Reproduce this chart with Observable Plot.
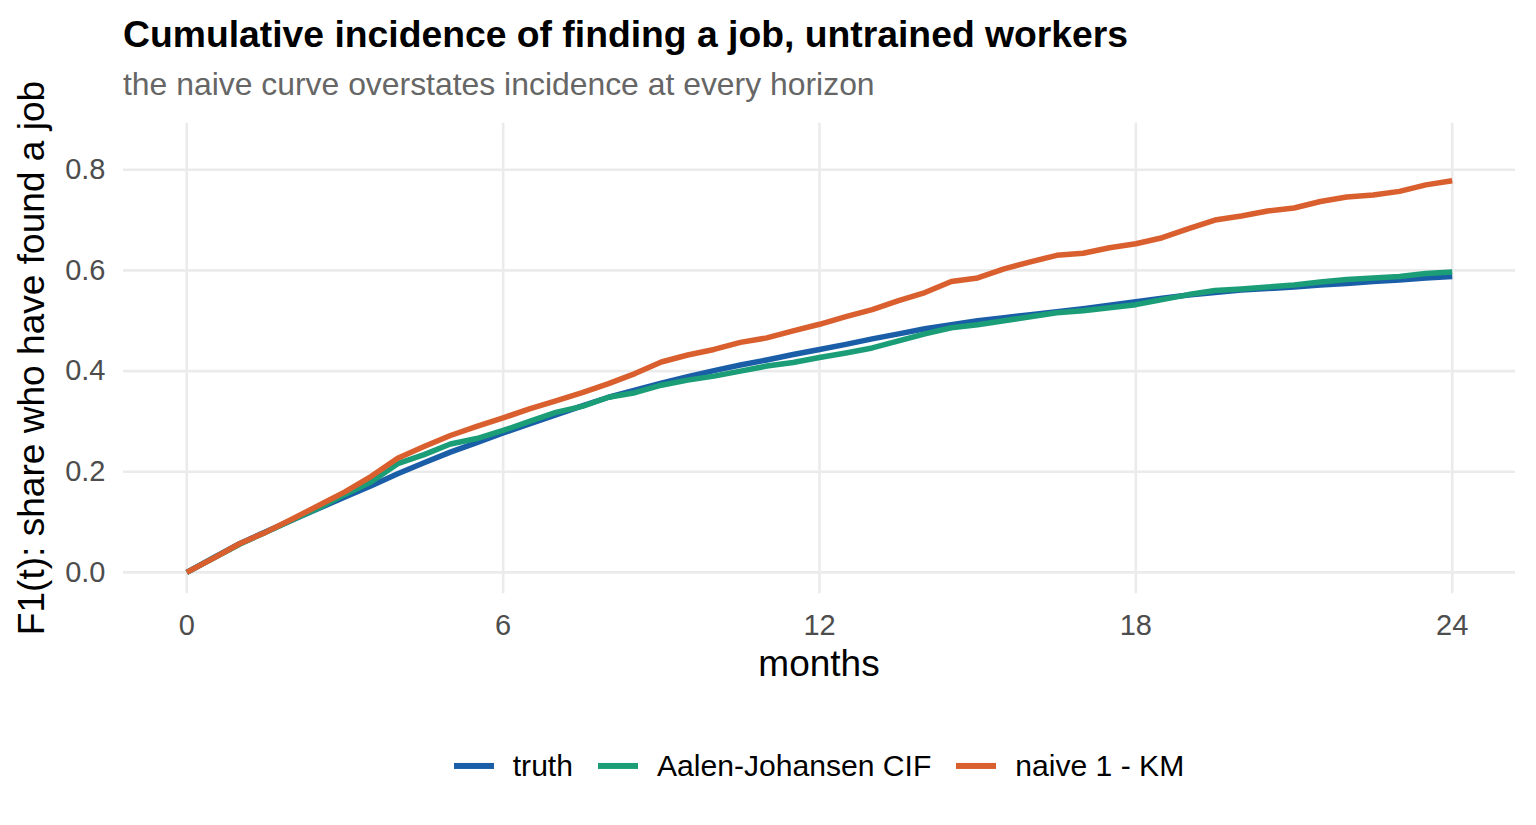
<!DOCTYPE html>
<html>
<head>
<meta charset="utf-8">
<script src="https://cdn.jsdelivr.net/npm/d3@7"></script>
<script src="https://cdn.jsdelivr.net/npm/@observablehq/plot@0.6"></script>
<style>
  html, body { margin: 0; padding: 0; background: #fff; }
  body { width: 1536px; height: 825px; position: relative; overflow: hidden; font-family: "Liberation Sans", Arial, sans-serif; }
  .abs { position: absolute; white-space: nowrap; line-height: 1; }
  #title { left: 123px; top: 15.5px; font-size: 37.3px; font-weight: bold; color: #000; }
  #subtitle { left: 123px; top: 68.9px; font-size: 31.9px; color: #666666; }
  #ylab { left: 32.3px; top: 358px; font-size: 37.1px; color: #000; transform: translate(-50%, -50%) rotate(-90deg); }
  #xlab { left: 819px; top: 663.4px; font-size: 37px; color: #000; transform: translate(-50%, -50%); }
  #legend { position: absolute; left: 123px; width: 1392px; top: 766px; transform: translateY(-50%); display: flex; justify-content: center; align-items: center; font-size: 30.1px; color: #000; line-height: 1; }
  .item { display: flex; align-items: center; margin: 0 12.5px; }
  .sw { width: 40px; height: 5.5px; margin-right: 19px; }
  #chart { position: absolute; left: 0; top: 0; }
</style>
</head>
<body>
<div id="title" class="abs">Cumulative incidence of finding a job, untrained workers</div>
<div id="subtitle" class="abs">the naive curve overstates incidence at every horizon</div>
<div id="chart"></div>
<div id="ylab" class="abs">F1(t): share who have found a job</div>
<div id="xlab" class="abs">months</div>
<div id="legend"></div>
<script>
const months = [0,0.5,1,1.5,2,2.5,3,3.5,4,4.5,5,5.5,6,6.5,7,7.5,8,8.5,9,9.5,10,10.5,11,11.5,12,12.5,13,13.5,14,14.5,15,15.5,16,16.5,17,17.5,18,18.5,19,19.5,20,20.5,21,21.5,22,22.5,23,23.5,24];
const truth = [0,0.029,0.057,0.081,0.104,0.127,0.150,0.172,0.196,0.218,0.239,0.258,0.277,0.295,0.313,0.331,0.348,0.362,0.376,0.389,0.401,0.412,0.422,0.433,0.443,0.453,0.464,0.474,0.484,0.492,0.500,0.506,0.512,0.518,0.524,0.531,0.538,0.545,0.551,0.556,0.561,0.564,0.567,0.571,0.574,0.578,0.581,0.585,0.588];
const ajCif = [0,0.028,0.056,0.080,0.104,0.128,0.155,0.180,0.216,0.234,0.255,0.266,0.282,0.300,0.318,0.330,0.348,0.357,0.372,0.382,0.390,0.400,0.410,0.417,0.427,0.436,0.446,0.460,0.474,0.486,0.492,0.500,0.508,0.516,0.520,0.526,0.532,0.542,0.552,0.560,0.563,0.567,0.571,0.577,0.582,0.585,0.588,0.594,0.597];
const naiveKM = [0,0.028,0.057,0.080,0.106,0.133,0.160,0.191,0.227,0.250,0.272,0.290,0.307,0.325,0.341,0.357,0.375,0.395,0.418,0.432,0.443,0.457,0.466,0.480,0.493,0.508,0.522,0.540,0.556,0.578,0.585,0.603,0.617,0.630,0.634,0.645,0.653,0.665,0.683,0.700,0.708,0.718,0.724,0.737,0.746,0.750,0.757,0.770,0.778];
const seriesNames = ["truth", "Aalen-Johansen CIF", "naive 1 - KM"];
const seriesColors = ["#1a5ea8", "#1b9e77", "#d95f2e"];
const xTicks = [0, 6, 12, 18, 24];
const yTicks = [0, 0.2, 0.4, 0.6, 0.8];

const seriesValues = [truth, ajCif, naiveKM];
const data = seriesNames.flatMap((name, i) => months.map((m, j) => ({series: name, month: m, value: seriesValues[i][j]})));

const chart = Plot.plot({
  width: 1536,
  height: 825,
  marginLeft: 123,
  marginRight: 21,
  marginTop: 122.7,
  marginBottom: 231.7,
  style: {fontFamily: '"Liberation Sans", Arial, sans-serif', fontSize: "29px", color: "#4d4d4d", background: "transparent", overflow: "visible"},
  x: {domain: [-1.2, 25.2]},
  y: {domain: [-0.0425, 0.8925]},
  color: {domain: seriesNames, range: seriesColors},
  marks: [
    Plot.gridX(xTicks, {stroke: "#ebebeb", strokeOpacity: 1, strokeWidth: 2.6}),
    Plot.gridY(yTicks, {stroke: "#ebebeb", strokeOpacity: 1, strokeWidth: 2.6}),
    Plot.axisX(xTicks, {tickSize: 0, tickPadding: 21, label: null, fontSize: 29}),
    Plot.axisY(yTicks, {tickSize: 0, tickPadding: 18, label: null, fontSize: 29, tickFormat: d3.format(".1f")}),
    Plot.line(data, {x: "month", y: "value", z: "series", stroke: "series", strokeWidth: 5.5, strokeLinecap: "butt", strokeLinejoin: "round"})
  ]
});
document.getElementById("chart").appendChild(chart);

const legend = document.getElementById("legend");
seriesNames.forEach((name, i) => {
  const item = document.createElement("div");
  item.className = "item";
  const sw = document.createElement("div");
  sw.className = "sw";
  sw.style.background = seriesColors[i];
  const label = document.createElement("span");
  label.textContent = name;
  item.appendChild(sw);
  item.appendChild(label);
  legend.appendChild(item);
});
</script>
</body>
</html>
